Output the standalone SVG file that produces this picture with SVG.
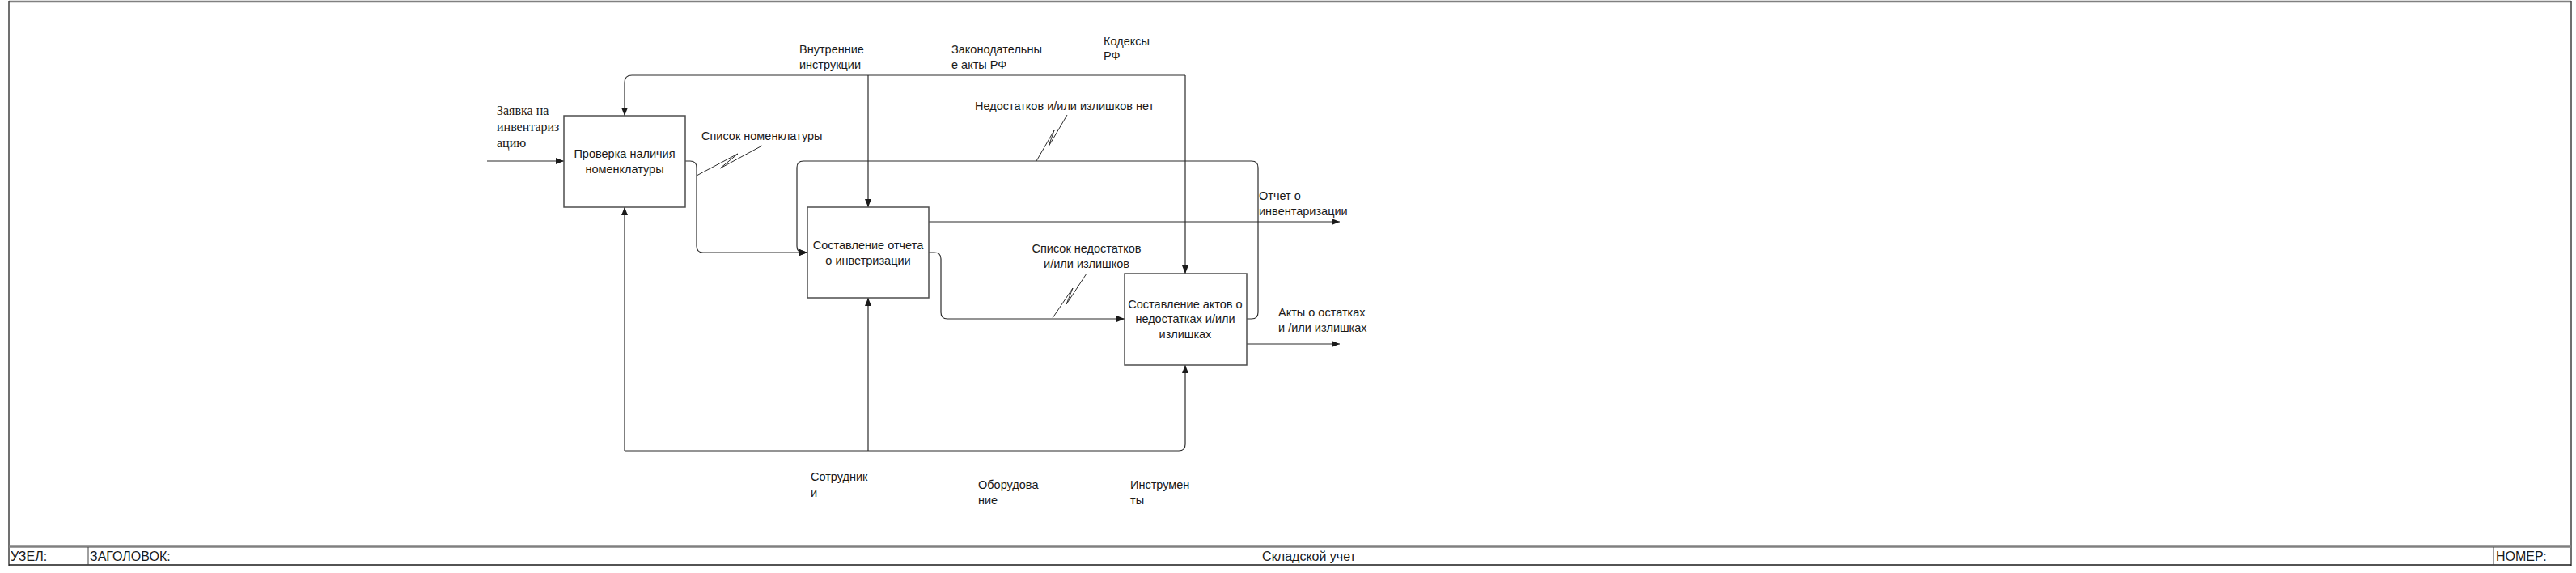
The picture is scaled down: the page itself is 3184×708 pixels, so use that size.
<svg xmlns="http://www.w3.org/2000/svg" width="3184" height="708" viewBox="0 0 3184 708">
<style>
  text { font-family: "Liberation Sans", Arial, sans-serif; font-size: 14.5px; fill: #1a1a1a; }
  .serif { font-family: "Liberation Serif", "Times New Roman", serif; font-size: 16px; }
  .mid { text-anchor: middle; }
  .foot { font-size: 16px; }
  .box { fill: #ffffff; stroke: #4d4d4d; stroke-width: 1.5; }
  .conn path { fill: none; stroke: #2b2b2b; stroke-width: 1.2; }
  .conn .sq { stroke-width: 1; }
</style>
<defs>
  <marker id="arr" viewBox="0 0 10 8" refX="10" refY="4" markerWidth="10" markerHeight="8" markerUnits="userSpaceOnUse" orient="auto">
    <path d="M0,0 L10,4 L0,8 Z" fill="#1a1a1a"/>
  </marker>
</defs>
<rect width="3184" height="708" fill="#ffffff"/>

<g id="frame">
  <line x1="11" y1="2" x2="3178" y2="2" stroke="#808080" stroke-width="2.5"/>
  <line x1="11" y1="1" x2="11" y2="699" stroke="#404040" stroke-width="1.5"/>
  <line x1="3178" y1="1" x2="3178" y2="699" stroke="#404040" stroke-width="1.5"/>
  <line x1="11" y1="675.5" x2="3178" y2="675.5" stroke="#808080" stroke-width="2.5"/>
  <line x1="11" y1="698" x2="3178" y2="698" stroke="#1a1a1a" stroke-width="1.5"/>
  <line x1="109" y1="676" x2="109" y2="698" stroke="#404040" stroke-width="1"/>
  <line x1="3082" y1="676" x2="3082" y2="698" stroke="#404040" stroke-width="1"/>
  <text class="foot" x="13" y="693">УЗЕЛ:</text>
  <text class="foot" x="111" y="693">ЗАГОЛОВОК:</text>
  <text class="foot mid" x="1618" y="693">Складской учет</text>
  <text class="foot" x="3085" y="693">НОМЕР:</text>
</g>

<g class="conn" id="connectors">
  <!-- control lines -->
  <path d="M1465,93 L1465,338" marker-end="url(#arr)"/>
  <path d="M1465,93 L781,93 Q772,93 772,102 L772,143" marker-end="url(#arr)"/>
  <path d="M1073,93 L1073,256" marker-end="url(#arr)"/>
  <!-- input -->
  <path d="M602,199 L697,199" marker-end="url(#arr)"/>
  <!-- box1 output to box2 -->
  <path d="M847,199 L853,199 Q861,199 861,207 L861,304 Q861,312 869,312 L998,312" marker-end="url(#arr)"/>
  <path class="sq" d="M861,217 L912,190 L890,208 L942,180"/>
  <!-- feedback from box3 to box2 -->
  <path d="M1541,394 L1547,394 Q1555,394 1555,386 L1555,207 Q1555,199 1547,199 L993,199 Q985,199 985,207 L985,304 Q985,312 992,312 L998,312" marker-end="url(#arr)"/>
  <path class="sq" d="M1281,199 L1303,161 L1296,181 L1319,142"/>
  <!-- box2 outputs -->
  <path d="M1148,274 L1656,274" marker-end="url(#arr)"/>
  <path d="M1148,312 L1155,312 Q1163,312 1163,320 L1163,386 Q1163,394 1171,394 L1390,394" marker-end="url(#arr)"/>
  <path class="sq" d="M1301,393 L1326,356 L1318,376 L1343,338"/>
  <!-- box3 output -->
  <path d="M1541,425 L1656,425" marker-end="url(#arr)"/>
  <!-- mechanisms -->
  <path d="M772,557 L772,256" marker-end="url(#arr)"/>
  <path d="M772,557 L1457,557 Q1465,557 1465,549 L1465,451" marker-end="url(#arr)"/>
  <path d="M1073,557 L1073,368" marker-end="url(#arr)"/>
</g>

<g id="node-1">
  <rect class="box" x="697" y="143" width="150" height="113"/>
  <text class="mid" x="772" y="195">Проверка наличия</text>
  <text class="mid" x="772" y="214">номенклатуры</text>
</g>
<g id="node-2">
  <rect class="box" x="998" y="256" width="150" height="112"/>
  <text class="mid" x="1073" y="308">Составление отчета</text>
  <text class="mid" x="1073" y="327">о инветризации</text>
</g>
<g id="node-3">
  <rect class="box" x="1390" y="338" width="151" height="113"/>
  <text class="mid" x="1465" y="381">Составление актов о</text>
  <text class="mid" x="1465" y="399">недостатках и/или</text>
  <text class="mid" x="1465" y="418">излишках</text>
</g>

<g id="labels">
  <text class="serif" x="614" y="142">Заявка на</text>
  <text class="serif" x="614" y="162">инвентариз</text>
  <text class="serif" x="614" y="182">ацию</text>
  <text x="867" y="173">Список номенклатуры</text>
  <text x="988" y="66">Внутренние</text>
  <text x="988" y="85">инструкции</text>
  <text x="1176" y="66">Законодательны</text>
  <text x="1176" y="85">е акты РФ</text>
  <text x="1364" y="56">Кодексы</text>
  <text x="1364" y="74">РФ</text>
  <text x="1205" y="136">Недостатков и/или излишков нет</text>
  <text class="mid" x="1343" y="312">Список недостатков</text>
  <text class="mid" x="1343" y="331">и/или излишков</text>
  <text x="1556" y="247">Отчет о</text>
  <text x="1556" y="266">инвентаризации</text>
  <text x="1580" y="391">Акты о остатках</text>
  <text x="1580" y="410">и /или излишках</text>
  <text x="1002" y="594">Сотрудник</text>
  <text x="1002" y="614">и</text>
  <text x="1209" y="604">Оборудова</text>
  <text x="1209" y="623">ние</text>
  <text x="1397" y="604">Инструмен</text>
  <text x="1397" y="623">ты</text>
</g>
</svg>
